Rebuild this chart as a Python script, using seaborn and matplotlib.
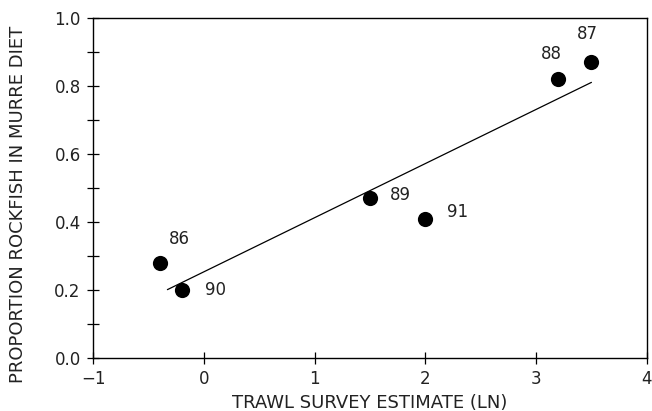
import numpy as np
import pandas as pd
import matplotlib
matplotlib.use("Agg")
import matplotlib.pyplot as plt
import seaborn as sns
from matplotlib.ticker import MultipleLocator, FormatStrFormatter

# Data
years = ["86", "90", "89", "91", "88", "87"]
trawl_ln = [-0.4, -0.2, 1.5, 2.0, 3.2, 3.5]
rockfish_prop = [0.28, 0.20, 0.47, 0.41, 0.82, 0.87]
fit_range = [-0.33, 3.5]

df = pd.DataFrame({"year": years, "x": trawl_ln, "y": rockfish_prop})

# Least squares line through the points
slope, intercept = np.polyfit(df["x"], df["y"], 1)
fit = pd.DataFrame({"x": fit_range})
fit["y"] = intercept + slope * fit["x"]

sns.set_style("white")
plt.rcParams["font.family"] = ["DejaVu Sans"]

fig = plt.figure(figsize=(6.52, 4.11), dpi=100)
ax = fig.add_axes([0.143, 0.129, 0.849, 0.827])

sns.lineplot(data=fit, x="x", y="y", color="black", linewidth=0.9, ax=ax)
sns.scatterplot(data=df, x="x", y="y", color="black", s=120,
                edgecolor="black", linewidth=0, ax=ax, zorder=3)

# year labels, offsets in points
offsets = [(14, 17), (24, 0), (22, 2), (23, 5), (-5, 18), (-3, 20)]
for (_, r), off in zip(df.iterrows(), offsets):
    ax.annotate(r["year"], (r["x"], r["y"]), xytext=off,
                textcoords="offset points", ha="center", va="center",
                fontsize=12, color="#222222")

ax.set_xlim(-1, 4)
ax.set_ylim(0, 1.0)
ax.xaxis.set_major_locator(MultipleLocator(1))
ax.yaxis.set_major_locator(MultipleLocator(0.2))
ax.yaxis.set_minor_locator(MultipleLocator(0.1))
ax.yaxis.set_major_formatter(FormatStrFormatter("%.1f"))

ax.tick_params(which="both", direction="inout", length=8, width=0.9,
               colors="black", labelcolor="#222222", labelsize=12, pad=5,
               bottom=True, left=True, top=False, right=False)
for s in ax.spines.values():
    s.set_color("black")
    s.set_linewidth(1.0)

ax.set_xlabel("TRAWL SURVEY ESTIMATE (LN)", fontsize=13, color="#222222", labelpad=4)
ax.set_ylabel("PROPORTION ROCKFISH IN MURRE DIET", fontsize=13, color="#222222", labelpad=20)
ax.yaxis.label.set_y(0.453)

fig.savefig("out.png", dpi=100)
